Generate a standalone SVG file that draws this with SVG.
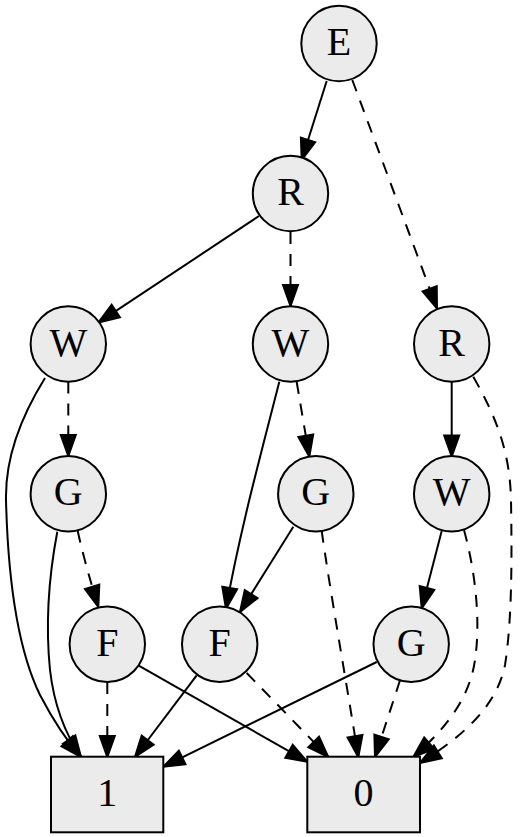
<svg xmlns="http://www.w3.org/2000/svg" width="520" height="837" viewBox="0 0 520 837">
<style>
.node circle, .node rect { fill: #ebebeb; stroke: #000; stroke-width: 2; }
.node text { font-family: "Liberation Serif", "Times New Roman", serif; font-size: 40px; text-anchor: middle; fill: #000; }
.edges path { fill: none; stroke: #000; stroke-width: 2; marker-end: url(#ah); }
.edges path.d { stroke-dasharray: 12,10; }
</style>
<defs>
<marker id="ah" markerUnits="userSpaceOnUse" markerWidth="24" markerHeight="19" viewBox="0 0 24 19" refX="22" refY="9.5" orient="auto" overflow="visible">
<path d="M1,2 L22,9.5 L1,17 Z" fill="#000" stroke="#000" stroke-width="2" stroke-dasharray="none"/>
</marker>
</defs>
<g class="edges" id="edges">
<path d="M326.7,81 L301.7,160"/>
<path class="d" d="M352.3,80 L437,308.5"/>
<path d="M259,216 L98.3,322.7"/>
<path class="d" d="M290.5,232 L290.5,306"/>
<path class="d" d="M68.3,381.5 L68.3,456"/>
<path d="M45,378 C22,415 5,455 6,500 C8,580 18,650 40,695 C52,718 66,740 81,757"/>
<path class="d" d="M296.7,382 L309.3,456.5"/>
<path d="M279.3,381.7 C262,450 240,530 226,608.7"/>
<path d="M451.7,382 L451.7,456.5"/>
<path class="d" d="M473.3,376.7 C495,415 510,450 511,500 C512,560 512,620 505,665 C497,705 465,735 420,763"/>
<path d="M57.3,531.7 C50,570 45,620 50,670 C54,705 66,735 81,757"/>
<path class="d" d="M77.7,531 C83,555 90,580 98.3,607"/>
<path d="M293.3,526.7 L240,612"/>
<path class="d" d="M321.7,531 C330,590 346,680 358.3,757"/>
<path d="M441.7,531 L421.7,608.3"/>
<path class="d" d="M464,530 C475,570 481,620 475,660 C470,695 450,725 413.3,757"/>
<path class="d" d="M107.3,682 L107.3,757"/>
<path d="M138.3,665.3 L307.3,761.7"/>
<path d="M196.7,675.3 L135,757"/>
<path class="d" d="M246.7,673 L328.3,757"/>
<path d="M376.7,662 L163.3,766.7"/>
<path class="d" d="M400,680.3 L375,757"/>
</g>
<g class="node" id="E"><circle cx="339" cy="43.5" r="37.7"/><text x="339" y="55">E</text></g>
<g class="node" id="R1"><circle cx="290.5" cy="193.5" r="37.7"/><text x="290.5" y="205">R</text></g>
<g class="node" id="W1"><circle cx="68.3" cy="344" r="37.7"/><text x="68.3" y="355.5">W</text></g>
<g class="node" id="W2"><circle cx="290.5" cy="344" r="37.7"/><text x="290.5" y="355.5">W</text></g>
<g class="node" id="R2"><circle cx="451.7" cy="344" r="37.7"/><text x="451.7" y="355.5">R</text></g>
<g class="node" id="G1"><circle cx="68.3" cy="493.7" r="37.7"/><text x="68.3" y="505.2">G</text></g>
<g class="node" id="G2"><circle cx="315.8" cy="493.7" r="37.7"/><text x="315.8" y="505.2">G</text></g>
<g class="node" id="W3"><circle cx="451.7" cy="493.7" r="37.7"/><text x="451.7" y="505.2">W</text></g>
<g class="node" id="F1"><circle cx="107.3" cy="644.3" r="37.7"/><text x="107.3" y="655.8">F</text></g>
<g class="node" id="F2"><circle cx="219.7" cy="644.3" r="37.7"/><text x="219.7" y="655.8">F</text></g>
<g class="node" id="G3"><circle cx="411.2" cy="644.3" r="37.7"/><text x="411.2" y="655.8">G</text></g>
<g class="node" id="T1"><rect x="51" y="756.7" width="112.3" height="75.6"/><text x="107.2" y="806">1</text></g>
<g class="node" id="T0"><rect x="307.3" y="756.7" width="112.7" height="75.6"/><text x="363.6" y="806">0</text></g>
</svg>
